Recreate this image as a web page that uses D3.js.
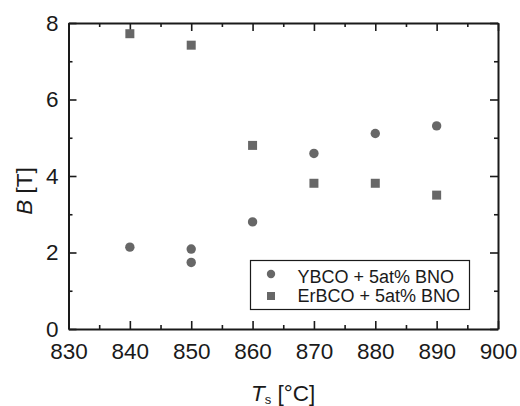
<!DOCTYPE html>
<html>
<head>
<meta charset="utf-8">
<script src="https://cdn.jsdelivr.net/npm/d3@7"></script>
<style>
  body { margin: 0; background: #fff; }
  svg text { font-family: "Liberation Sans", Arial, sans-serif; fill: #1a1a1a; }
</style>
</head>
<body>
<div id="chart"></div>
<script>
// data
var tempsY = [840, 850, 850, 860, 870, 880, 890];
var fieldY = [2.14, 2.09, 1.74, 2.8, 4.59, 5.11, 5.31];
var tempsEr = [840, 850, 860, 870, 880, 890];
var fieldEr = [7.72, 7.42, 4.8, 3.81, 3.81, 3.5];
var seriesNames = ["YBCO + 5at% BNO", "ErBCO + 5at% BNO"];
var xTicks = [830, 840, 850, 860, 870, 880, 890, 900];
var yTicks = [0, 2, 4, 6, 8];

var W = 520, H = 406;
var plotL = 68.5, plotR = 498, plotT = 23, plotB = 329;
var grey = "#676767";

var svg = d3.select("#chart")
  .append("svg")
    .attr("width", W)
    .attr("height", H);

var x = d3.scaleLinear().domain([830, 900]).range([plotL, plotR]);
var y = d3.scaleLinear().domain([0, 8]).range([plotB, plotT]);

var xMinor = d3.range(835, 900, 10);
var yMinor = d3.range(1, 8, 2);

function styleAxis(g, fs) {
  g.select(".domain").attr("stroke", "#1a1a1a").attr("stroke-width", 2);
  g.selectAll(".tick line").attr("stroke", "#1a1a1a").attr("stroke-width", 1.6);
  g.selectAll(".tick text").style("font-size", fs + "px").attr("fill", "#1a1a1a");
}
function noDomain(g) { g.select(".domain").remove(); }

// bottom
svg.append("g")
  .attr("transform", "translate(0," + plotB + ")")
  .call(d3.axisBottom(x).tickValues(xTicks).tickSizeInner(-8).tickSizeOuter(0).tickPadding(14))
  .call(styleAxis, 22.5);
svg.append("g")
  .attr("transform", "translate(0," + plotB + ")")
  .call(d3.axisBottom(x).tickValues(xMinor).tickSize(-4).tickFormat(""))
  .call(noDomain)
  .call(styleAxis, 0);

// top
svg.append("g")
  .attr("transform", "translate(0," + plotT + ")")
  .call(d3.axisTop(x).tickValues(xTicks).tickSizeInner(-8).tickSizeOuter(0).tickFormat(""))
  .call(styleAxis, 0);
svg.append("g")
  .attr("transform", "translate(0," + plotT + ")")
  .call(d3.axisTop(x).tickValues(xMinor).tickSize(-4).tickFormat(""))
  .call(noDomain)
  .call(styleAxis, 0);

// left
svg.append("g")
  .attr("transform", "translate(" + plotL + ",0)")
  .call(d3.axisLeft(y).tickValues(yTicks).tickSizeInner(-8).tickSizeOuter(0).tickPadding(10))
  .call(styleAxis, 22.5);
svg.append("g")
  .attr("transform", "translate(" + plotL + ",0)")
  .call(d3.axisLeft(y).tickValues(yMinor).tickSize(-4).tickFormat(""))
  .call(noDomain)
  .call(styleAxis, 0);

// right
svg.append("g")
  .attr("transform", "translate(" + plotR + ",0)")
  .call(d3.axisRight(y).tickValues(yTicks).tickSizeInner(-8).tickSizeOuter(0).tickFormat(""))
  .call(styleAxis, 0);
svg.append("g")
  .attr("transform", "translate(" + plotR + ",0)")
  .call(d3.axisRight(y).tickValues(yMinor).tickSize(-4).tickFormat(""))
  .call(noDomain)
  .call(styleAxis, 0);

// points
svg.append("g")
  .selectAll("circle")
  .data(tempsY)
  .enter()
  .append("circle")
    .attr("cx", function(d) { return x(d); })
    .attr("cy", function(d, i) { return y(fieldY[i]); })
    .attr("r", 4.7)
    .style("fill", grey);

svg.append("g")
  .selectAll("path")
  .data(tempsEr)
  .enter()
  .append("path")
    .attr("d", d3.symbol().type(d3.symbolSquare).size(81))
    .attr("transform", function(d, i) { return "translate(" + x(d) + "," + y(fieldEr[i]) + ")"; })
    .style("fill", grey);

// legend
var lg = svg.append("g");
lg.append("rect")
  .attr("x", 250.5).attr("y", 260.5)
  .attr("width", 219).attr("height", 49)
  .attr("fill", "#fff").attr("stroke", "#1a1a1a").attr("stroke-width", 1.2);
lg.append("circle")
  .attr("cx", 271).attr("cy", 274).attr("r", 4.2).style("fill", grey);
lg.append("path")
  .attr("d", d3.symbol().type(d3.symbolSquare).size(64))
  .attr("transform", "translate(271,296)")
  .style("fill", grey);
lg.selectAll("text")
  .data(seriesNames)
  .enter()
  .append("text")
    .attr("x", 297.5)
    .attr("y", function(d, i) { return 283.3 + i * 18.4; })
    .style("font-size", "18px")
    .text(function(d) { return d; });

// axis titles
var xt = svg.append("text")
  .attr("x", 251).attr("y", 400.5)
  .style("font-size", "22.5px");
xt.append("tspan").style("font-style", "italic").text("T");
xt.append("tspan").attr("dy", 3).style("font-size", "13px").text("s");
xt.append("tspan").attr("dy", -3).text(" [°C]");

var yt = svg.append("text")
  .attr("transform", "translate(32,191) rotate(-90)")
  .attr("text-anchor", "middle")
  .style("font-size", "22.5px");
yt.append("tspan").style("font-style", "italic").text("B");
yt.append("tspan").text(" [T]");
</script>
</body>
</html>
